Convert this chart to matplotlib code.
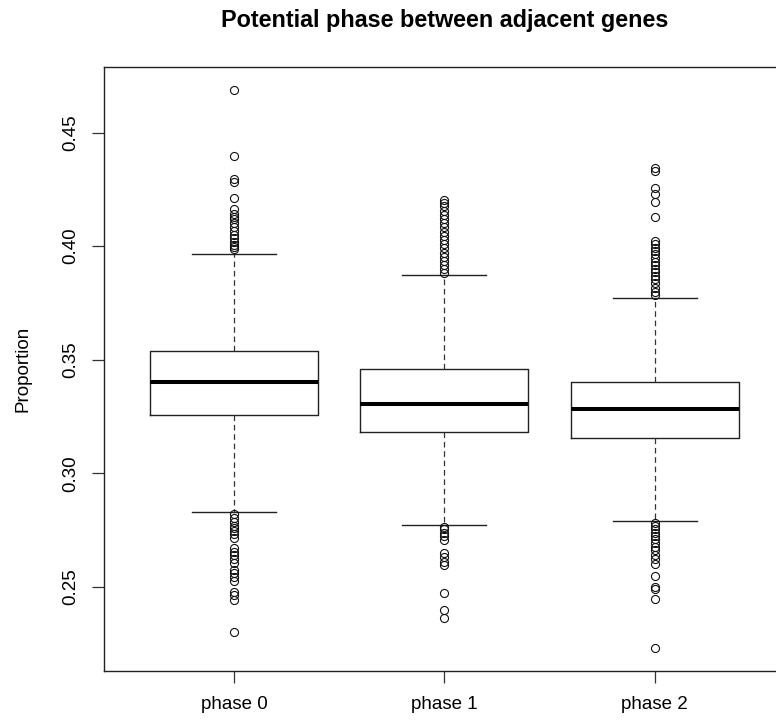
import matplotlib
matplotlib.use("Agg")
import matplotlib.pyplot as plt

# ------------------------------------------------------------
# Potential phase between adjacent genes - R style boxplot
# ------------------------------------------------------------

LABELS = ["phase 0", "phase 1", "phase 2"]

# box statistics: [low whisker, q1, median, q3, high whisker]
PHASE0_BOX = [0.2830, 0.3255, 0.3400, 0.3540, 0.3964]
PHASE1_BOX = [0.2772, 0.3183, 0.3306, 0.3458, 0.3873]
PHASE2_BOX = [0.2789, 0.3156, 0.3283, 0.3402, 0.3773]

PHASE0_OUT = [0.4688, 0.4397, 0.4295, 0.4284, 0.4211, 0.4164, 0.4142, 0.4127,
              0.4118, 0.4104, 0.4083, 0.4068, 0.4049, 0.4035, 0.4020, 0.4005,
              0.3995, 0.3986,
              0.2819, 0.2801, 0.2784, 0.2769, 0.2757, 0.2745, 0.2731, 0.2713,
              0.2672, 0.2654, 0.2640, 0.2622, 0.2603, 0.2574, 0.2559, 0.2544,
              0.2525, 0.2478, 0.2464, 0.2442, 0.2299]
PHASE1_OUT = [0.4203, 0.4192, 0.4177, 0.4156, 0.4137, 0.4118, 0.4101, 0.4083,
              0.4064, 0.4045, 0.4027, 0.4009, 0.3991, 0.3971, 0.3954, 0.3936,
              0.3917, 0.3898, 0.3880,
              0.2764, 0.2753, 0.2738, 0.2723, 0.2706, 0.2647, 0.2632, 0.2610,
              0.2596, 0.2471, 0.2397, 0.2361]
PHASE2_OUT = [0.4346, 0.4331, 0.4255, 0.4229, 0.4196, 0.4130, 0.4023, 0.4008,
              0.3993, 0.3979, 0.3964, 0.3949, 0.3932, 0.3917, 0.3900, 0.3885,
              0.3870, 0.3856, 0.3837, 0.3817, 0.3800, 0.3785,
              0.2779, 0.2767, 0.2753, 0.2738, 0.2723, 0.2709, 0.2694, 0.2676,
              0.2662, 0.2640, 0.2621, 0.2600, 0.2547, 0.2500, 0.2489, 0.2444,
              0.2229]

Y_TICKS = [0.25, 0.30, 0.35, 0.40, 0.45]

FONT = "Liberation Sans"
TICK_SIZE = 13.5


def make_stats():
    stats = []
    for label, box, out in zip(LABELS,
                               [PHASE0_BOX, PHASE1_BOX, PHASE2_BOX],
                               [PHASE0_OUT, PHASE1_OUT, PHASE2_OUT]):
        stats.append({
            "label": label,
            "whislo": box[0], "q1": box[1], "med": box[2],
            "q3": box[3], "whishi": box[4],
            "fliers": out,
        })
    return stats


def main():
    plt.rcParams["font.family"] = [FONT, "DejaVu Sans"]

    fig = plt.figure(figsize=(7.76, 7.21), dpi=100)
    # axes box runs a little past the right edge, as in the cropped original
    ax = fig.add_axes([103.7 / 776, 1 - 670.7 / 721, (785 - 103.7) / 776, (670.7 - 67.3) / 721])

    ax.bxp(
        make_stats(),
        positions=[1, 2, 3],
        widths=0.8,
        capwidths=0.4,
        showfliers=True,
        boxprops=dict(color="#222222", linewidth=1.0),
        medianprops=dict(color="black", linewidth=2.9, solid_capstyle="butt"),
        whiskerprops=dict(color="#333333", linewidth=0.9, linestyle=(0, (4.5, 3))),
        capprops=dict(color="#222222", linewidth=1.0),
        flierprops=dict(marker="o", markerfacecolor="none", markeredgecolor="#111111",
                        markersize=5.8, markeredgewidth=0.8, linestyle="none"),
    )

    ax.set_xlim(0.38, 3.62)
    ax.set_ylim(0.2130, 0.4788)

    ax.set_yticks(Y_TICKS)
    ax.set_yticklabels([f"{v:.2f}" for v in Y_TICKS], rotation=90, va="center")
    ax.set_xticks([1, 2, 3])
    ax.set_xticklabels(LABELS)
    ax.tick_params(axis="both", labelsize=TICK_SIZE, length=8.5, width=0.9, color="#333333")
    ax.tick_params(axis="y", pad=9)
    ax.tick_params(axis="x", pad=10)

    for sp in ax.spines.values():
        sp.set_linewidth(1.0)
        sp.set_color("#222222")

    ax.set_ylabel("Proportion", fontsize=TICK_SIZE, labelpad=22)
    fig.text((103.7 + 785) / 2 / 776, 1 - 21 / 721, "Potential phase between adjacent genes",
             ha="center", va="center", fontsize=16.8, fontweight="bold")

    fig.savefig("out.png", dpi=100)
    plt.close(fig)


if __name__ == "__main__":
    main()
